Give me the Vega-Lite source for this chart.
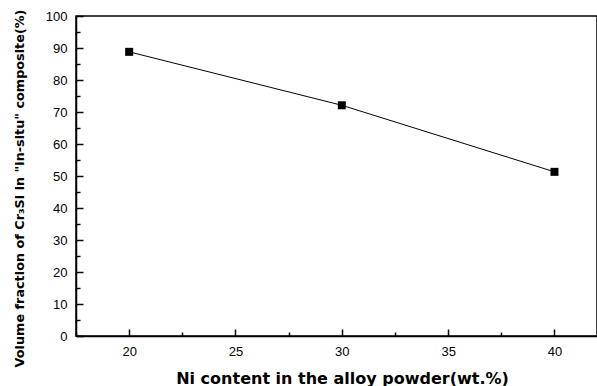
{
  "$schema": "https://vega.github.io/schema/vega-lite/v6.json",
  "width": 521,
  "height": 320,
  "autosize": "none",
  "padding": {"left": 76, "top": 16, "right": 0, "bottom": 50},
  "background": "white",
  "config": {
    "view": {"stroke": "black", "strokeWidth": 1.5},
    "axis": {
      "domainColor": "black",
      "domainWidth": 1.5,
      "tickColor": "black",
      "tickWidth": 1.5,
      "grid": false,
      "labelFont": "Liberation Sans",
      "labelFontSize": 13,
      "labelColor": "black",
      "titleFont": "DejaVu Sans",
      "titleFontWeight": "bold",
      "titleColor": "black"
    }
  },
  "data": {
    "values": [
      {"ni": 20, "vf": 88.8},
      {"ni": 30, "vf": 72.1},
      {"ni": 40, "vf": 51.3}
    ]
  },
  "encoding": {
    "x": {
      "field": "ni",
      "type": "quantitative",
      "scale": {"domain": [17.5, 42], "nice": false, "zero": false},
      "axis": {
        "title": "Ni content in the alloy powder(wt.%)",
        "values": [17.5, 20, 22.5, 25, 27.5, 30, 32.5, 35, 37.5, 40],
        "labelExpr": "datum.value % 5 === 0 ? datum.label : ''",
        "tickSize": {"condition": {"test": "datum.value % 5 === 0", "value": -7}, "value": -4},
        "labelPadding": 16,
        "titleFontSize": 16,
        "titleX": 266,
        "titleY": 47,
        "titleBaseline": "alphabetic",
        "titleAlign": "center"
      }
    },
    "y": {
      "field": "vf",
      "type": "quantitative",
      "scale": {"domain": [0, 100], "nice": false},
      "axis": {
        "title": "Volume fraction of Cr₃Si in \"in-situ\" composite(%)",
        "values": [0, 5, 10, 15, 20, 25, 30, 35, 40, 45, 50, 55, 60, 65, 70, 75, 80, 85, 90, 95, 100],
        "labelExpr": "datum.value % 10 === 0 ? datum.label : ''",
        "tickSize": {"condition": {"test": "datum.value % 10 === 0", "value": -7}, "value": -4},
        "labelPadding": 16,
        "titleFontSize": 12.8,
        "titleAngle": -90,
        "titleX": -57,
        "titleY": 172,
        "titleBaseline": "middle",
        "titleAlign": "center"
      }
    }
  },
  "layer": [
    {"mark": {"type": "line", "color": "black", "strokeWidth": 1}},
    {"mark": {"type": "point", "shape": "square", "filled": true, "color": "black", "opacity": 1, "size": 64}}
  ]
}
